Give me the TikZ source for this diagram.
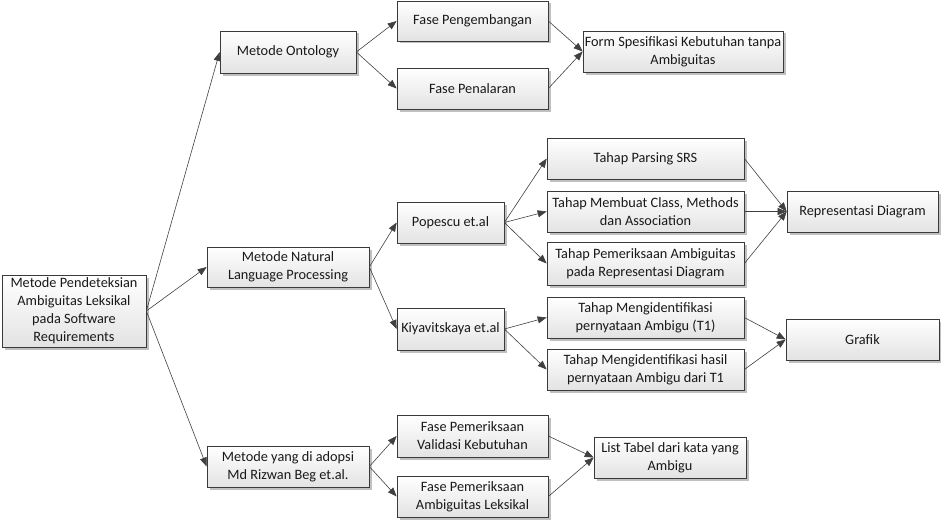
\documentclass[tikz,border=0pt]{standalone}
\usepackage{fontspec}
\setmainfont{Carlito}
\usetikzlibrary{arrows.meta,shadows}
\definecolor{linec}{HTML}{404040}
\definecolor{boxline}{HTML}{3A3A3A}
\tikzset{
  box/.style={draw=boxline, line width=0.7pt, top color=white, bottom color=black!11,
    drop shadow={shadow xshift=2.5pt, shadow yshift=-2.5pt, fill=black!45, opacity=0.55},
    align=center, inner sep=1pt, font=\fontsize{14.3}{18}\selectfont, text=black!90},
  conn/.style={draw=linec, line width=0.6pt, -{Triangle[length=9pt,width=7pt]}}
}
\begin{document}
\begin{tikzpicture}[x=1pt,y=-1pt]
\useasboundingbox (0,0) rectangle (941,519);
% nodes
\node[box, minimum width=144, minimum height=72] (root) at (74,311) {Metode Pendeteksian\\Ambiguitas Leksikal\\pada Software\\Requirements};
\node[box, minimum width=136, minimum height=42] (onto) at (288,52) {Metode Ontology};
\node[box, minimum width=151, minimum height=40] (fpeng) at (472.5,21) {Fase Pengembangan};
\node[box, minimum width=151, minimum height=41] (fpen) at (472.5,88.5) {Fase Penalaran};
\node[box, minimum width=200, minimum height=41] (form) at (683,51.5) {Form Spesifikasi Kebutuhan tanpa\\Ambiguitas};
\node[box, minimum width=162, minimum height=40] (nlp) at (288,267) {Metode Natural\\Language Processing};
\node[box, minimum width=107, minimum height=41] (pop) at (450.5,222.5) {Popescu et.al};
\node[box, minimum width=107, minimum height=42] (kiy) at (450.5,329) {Kiyavitskaya et.al};
\node[box, minimum width=197, minimum height=41] (pars) at (645.5,158.5) {Tahap Parsing SRS};
\node[box, minimum width=197, minimum height=41] (memb) at (645.5,211.5) {Tahap Membuat Class, Methods\\dan Association};
\node[box, minimum width=197, minimum height=43] (perik) at (645.5,263.5) {Tahap Pemeriksaan Ambiguitas\\pada Representasi Diagram};
\node[box, minimum width=151, minimum height=41] (repr) at (862.5,211.5) {Representasi Diagram};
\node[box, minimum width=197, minimum height=41] (t1) at (645.5,317.5) {Tahap Mengidentifikasi\\pernyataan Ambigu (T1)};
\node[box, minimum width=197, minimum height=41] (hasil) at (645.5,369.5) {Tahap Mengidentifikasi hasil\\pernyataan Ambigu dari T1};
\node[box, minimum width=153, minimum height=41] (graf) at (862.5,339.5) {Grafik};
\node[box, minimum width=162, minimum height=41] (yang) at (288,466.5) {Metode yang di adopsi\\Md Rizwan Beg et.al.};
\node[box, minimum width=151, minimum height=42] (valid) at (472.5,436) {Fase Pemeriksaan\\Validasi Kebutuhan};
\node[box, minimum width=151, minimum height=41] (ambig) at (472.5,496.5) {Fase Pemeriksaan\\Ambiguitas Leksikal};
\node[box, minimum width=152, minimum height=41] (list) at (670,457.5) {List Tabel dari kata yang\\Ambigu};
% connectors
\draw[conn] (root.east) -- (onto.west);
\draw[conn] (root.east) -- (nlp.west);
\draw[conn] (root.east) -- (yang.west);
\draw[conn] (onto.east) -- (fpeng.west);
\draw[conn] (onto.east) -- (fpen.west);
\draw[conn] (fpeng.east) -- (form.west);
\draw[conn] (fpen.east) -- (form.west);
\draw[conn] (nlp.east) -- (pop.west);
\draw[conn] (nlp.east) -- (kiy.west);
\draw[conn] (pop.east) -- (pars.west);
\draw[conn] (pop.east) -- (memb.west);
\draw[conn] (pop.east) -- (perik.west);
\draw[conn] (pars.east) -- (repr.west);
\draw[conn] (memb.east) -- (repr.west);
\draw[conn] (perik.east) -- (repr.west);
\draw[conn] (kiy.east) -- (t1.west);
\draw[conn] (kiy.east) -- (hasil.west);
\draw[conn] (t1.east) -- (graf.west);
\draw[conn] (hasil.east) -- (graf.west);
\draw[conn] (yang.east) -- (valid.west);
\draw[conn] (yang.east) -- (ambig.west);
\draw[conn] (valid.east) -- (list.west);
\draw[conn] (ambig.east) -- (list.west);
\end{tikzpicture}
\end{document}
